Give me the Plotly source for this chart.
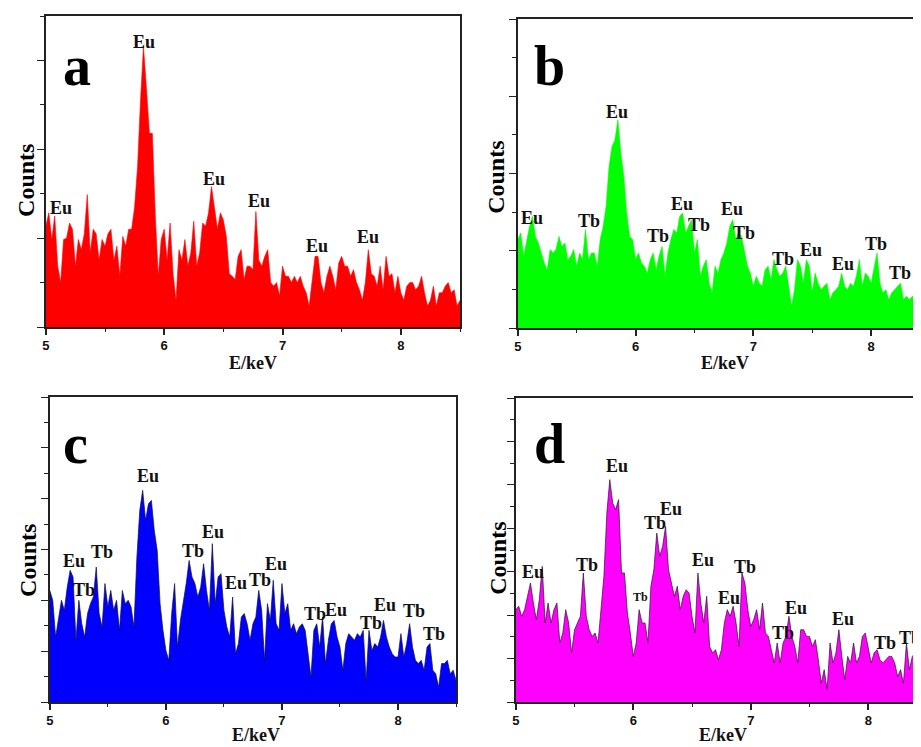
import plotly.graph_objects as go

# Energy channels (keV), uniform 0.025 keV grid from 5.0 to 8.5
E_START, E_STEP, N_CH = 5.0, 0.025, 141
energy = [round(E_START + E_STEP * i, 3) for i in range(N_CH)]

counts_a = [
    2.27, 2.57, 1.97, 2.5, 1.37, 1.0, 1.97, 2.0, 2.34, 2.2,
    1.37, 1.97, 1.74, 2.1, 2.98, 1.67, 2.2, 2.1, 1.5, 1.97,
    1.82, 2.1, 2.2, 1.5, 1.82, 1.14, 2.04, 1.82, 2.2, 2.2,
    2.7, 3.6, 5.1, 6.31, 5.37, 4.36, 4.36, 2.5, 1.14, 1.97,
    2.2, 1.5, 2.34, 1.2, 0.6, 1.74, 1.5, 1.97, 1.37, 1.67,
    2.38, 1.37, 1.67, 2.34, 2.27, 2.57, 3.16, 2.7, 2.2, 2.57,
    2.41, 2.04, 1.2, 1.14, 1.07, 1.59, 1.74, 1.07, 1.37, 1.37,
    1.29, 2.6, 1.5, 1.37, 1.59, 1.74, 1.0, 0.92, 1.0, 0.7,
    1.37, 1.14, 1.14, 1.0, 1.14, 1.0, 1.14, 0.92, 0.77, 0.47,
    1.0, 1.59, 1.59, 1.0, 0.77, 1.14, 1.37, 1.14, 0.84, 1.44,
    1.59, 1.37, 1.37, 1.14, 1.29, 1.0, 0.84, 0.6, 1.0, 1.74,
    1.2, 1.14, 0.92, 1.37, 0.84, 1.59, 1.14, 1.2, 0.77, 1.14,
    0.77, 0.6, 0.92, 1.0, 1.0, 0.84, 0.92, 1.14, 0.77, 0.47,
    0.6, 0.92, 0.47, 0.77, 0.77, 0.92, 1.0, 0.77, 0.84, 0.47,
    0.6,
]

counts_b = [
    2.29, 2.46, 1.86, 2.29, 2.63, 2.89, 2.37, 2.2, 1.94, 1.68,
    1.51, 2.03, 1.94, 2.03, 2.37, 2.11, 2.2, 1.77, 1.86, 2.03,
    1.6, 1.94, 1.77, 2.55, 1.77, 1.94, 1.94, 1.6, 2.29, 2.63,
    3.15, 4.18, 4.7, 4.87, 5.39, 4.53, 3.93, 2.98, 2.37, 2.29,
    1.77, 1.94, 1.68, 1.6, 1.42, 1.77, 1.94, 1.51, 1.86, 2.11,
    1.34, 1.94, 2.29, 2.55, 2.46, 2.89, 2.98, 2.46, 2.63, 2.8,
    1.94, 2.29, 1.34, 1.6, 1.77, 1.16, 0.91, 1.6, 1.42, 1.77,
    1.94, 2.2, 2.63, 2.8, 2.29, 2.46, 2.37, 1.94, 1.6, 1.42,
    1.08, 1.34, 1.16, 1.08, 1.51, 1.6, 1.25, 1.77, 1.51, 1.34,
    1.42, 1.6, 1.08, 0.56, 0.99, 1.77, 1.6, 1.16, 1.77, 1.6,
    0.91, 1.42, 1.16, 0.99, 1.08, 1.16, 0.73, 0.91, 0.99, 1.08,
    1.42, 1.08, 0.99, 1.16, 1.08, 1.34, 1.77, 1.08, 1.42, 1.34,
    1.16, 1.6, 1.94, 1.16, 0.91, 0.99, 0.73, 0.91, 0.99, 1.08,
    1.16, 0.73, 0.82, 0.73, 0.82, 0.65, 1.16, 1.16, 0.9, 0.8,
    0.85,
]

counts_c = [
    4.39, 4.0, 2.56, 3.34, 4.0, 3.61, 4.52, 5.18, 4.92, 2.43,
    4.0, 3.08, 2.56, 3.48, 3.87, 4.13, 5.31, 3.48, 2.95, 4.66,
    3.74, 4.39, 3.61, 4.0, 2.82, 4.39, 3.87, 4.0, 3.74, 2.95,
    5.7, 7.54, 8.33, 7.15, 7.8, 7.93, 6.75, 5.97, 3.87, 2.82,
    2.03, 1.64, 3.48, 4.66, 2.16, 3.21, 3.87, 4.66, 5.57, 4.92,
    4.66, 4.13, 4.52, 5.44, 4.39, 3.61, 6.23, 3.87, 4.92, 5.05,
    3.61, 2.95, 2.56, 4.13, 1.9, 2.3, 3.34, 3.48, 3.08, 2.43,
    3.08, 3.34, 4.39, 3.61, 1.64, 3.87, 3.21, 4.79, 3.08, 2.82,
    4.66, 3.48, 3.87, 2.82, 3.08, 2.69, 2.95, 3.08, 2.82, 1.9,
    0.98, 2.82, 3.08, 2.16, 3.34, 1.51, 2.43, 3.08, 3.21, 2.56,
    2.16, 1.25, 2.3, 2.69, 2.56, 2.43, 2.69, 2.56, 2.82, 0.85,
    2.82, 2.03, 2.3, 2.16, 2.56, 3.21, 2.56, 2.16, 1.9, 1.77,
    1.77, 2.69, 1.77, 2.3, 3.08, 2.16, 1.64, 1.51, 1.64, 1.25,
    2.16, 2.3, 1.25, 1.11, 0.59, 1.51, 1.51, 1.64, 1.11, 1.25,
    0.85,
]

counts_d = [
    4.25, 4.41, 3.95, 4.25, 4.87, 5.48, 4.56, 3.79, 4.71, 6.25,
    3.64, 4.56, 3.64, 4.25, 4.56, 2.72, 3.18, 4.25, 3.64, 2.26,
    3.33, 3.64, 3.95, 5.94, 3.95, 3.33, 3.02, 3.18, 2.72, 4.25,
    5.79, 8.7, 10.24, 9.16, 8.86, 9.32, 5.94, 5.94, 4.1, 3.18,
    2.1, 2.72, 4.25, 3.64, 3.64, 2.72, 5.33, 6.09, 7.78, 6.71,
    7.17, 8.09, 6.09, 5.48, 4.87, 5.33, 4.25, 4.87, 5.17, 5.02,
    3.95, 3.18, 5.94, 4.56, 3.64, 4.87, 2.56, 2.26, 2.41, 1.95,
    2.41, 3.64, 4.25, 3.95, 4.41, 3.64, 2.56, 5.94, 5.48, 4.25,
    3.48, 3.79, 4.25, 3.33, 4.56, 3.18, 3.02, 2.41, 1.8, 2.72,
    1.8, 2.72, 3.02, 3.95, 3.02, 2.56, 1.8, 3.33, 3.33, 3.02,
    3.02, 2.56, 2.87, 1.95, 0.87, 1.49, 0.57, 2.72, 1.8, 2.26,
    3.33, 2.1, 1.03, 2.1, 1.8, 2.72, 1.8, 2.1, 3.02, 3.18,
    2.56, 1.8, 2.26, 2.41, 1.95, 1.8, 1.95, 2.1, 2.1, 1.8,
    1.18, 1.49, 0.87, 2.72, 1.49, 2.1, 2.26, 1.49, 1.8, 1.6,
    1.5,
]

# Peak labels: (element, energy keV, label height in counts units)
labels_a = [("Eu", 5.827, 6.42), ("Eu", 5.124, 2.68), ("Eu", 6.418, 3.34),
            ("Eu", 6.803, 2.84), ("Eu", 7.295, 1.83), ("Eu", 7.72, 2.02)]
labels_b = [("Eu", 5.118, 2.86), ("Tb", 5.606, 2.78), ("Eu", 5.845, 5.59),
            ("Tb", 6.189, 2.39), ("Eu", 6.394, 3.21), ("Tb", 6.535, 2.66),
            ("Eu", 6.823, 3.08), ("Tb", 6.921, 2.46), ("Tb", 7.254, 1.79),
            ("Eu", 7.49, 2.01), ("Eu", 7.758, 1.67), ("Tb", 8.042, 2.18),
            ("Tb", 8.245, 1.42)]
labels_c = [("Eu", 5.843, 8.88), ("Eu", 5.209, 5.53), ("Tb", 5.294, 4.39),
            ("Tb", 5.451, 5.9), ("Tb", 6.237, 5.93), ("Eu", 6.409, 6.69),
            ("Eu", 6.6, 4.7), ("Tb", 6.814, 4.81), ("Eu", 6.946, 5.44),
            ("Tb", 7.289, 3.48), ("Eu", 7.466, 3.61), ("Tb", 7.766, 3.11),
            ("Eu", 7.889, 3.8), ("Tb", 8.137, 3.57), ("Tb", 8.309, 2.69)]
labels_d = [("Eu", 5.147, 5.99), ("Tb", 5.607, 6.32), ("Eu", 5.862, 10.85),
            ("Tb", 6.065, 4.82), ("Tb", 6.186, 8.25), ("Eu", 6.322, 8.89),
            ("Eu", 6.596, 6.55), ("Tb", 6.955, 6.2), ("Eu", 6.814, 4.79),
            ("Tb", 7.274, 3.18), ("Eu", 7.387, 4.33), ("Eu", 7.788, 3.82),
            ("Tb", 8.141, 2.72), ("Tb", 8.359, 2.95)]

# The page body adds an 8 px margin, so the figure is drawn 8 px smaller
# and all screen-pixel positions below are shifted by that offset.
OFF = 8
W, H = 921 - OFF, 747 - OFF


def px(x):
    return (x - OFF) / W


def py(y):
    return 1 - (y - OFF) / H


panels = [
    dict(letter="a", y=counts_a, labels=labels_a, fill="#FF0000", line="#FF0000", lw=0.6,
         box=(42, 458, 16, 327), xr=[5, 8.5], yr=[0, 7], mirror=True,
         letter_xy=(73, 66), counts_xy=(22, 180), ekev_xy=(250, 363)),
    dict(letter="b", y=counts_b, labels=labels_b, fill="#00FF00", line="#00FF00", lw=0.6,
         box=(516, 921, 19, 328), xr=[5, 8.4235], yr=[0, 8], mirror=False,
         letter_xy=(548, 66), counts_xy=(494, 177), ekev_xy=(724, 363)),
    dict(letter="c", y=counts_c, labels=labels_c, fill="#0000FF", line="#101040", lw=0.7,
         box=(46, 454, 397, 702), xr=[5, 8.5], yr=[0, 12], mirror=True,
         letter_xy=(72, 444), counts_xy=(24, 560), ekev_xy=(253, 735)),
    dict(letter="d", y=counts_d, labels=labels_d, fill="#FF00FF", line="#301030", lw=0.7,
         box=(514, 921, 398, 702), xr=[5, 8.449], yr=[0, 14], mirror=False,
         letter_xy=(548, 444), counts_xy=(496, 558), ekev_xy=(722, 735)),
]

SERIF = "Liberation Serif, Times New Roman, serif"
SANS = "Liberation Sans, Arial, sans-serif"

fig = go.Figure()
layout = dict(width=W, height=H, margin=dict(l=0, r=0, t=0, b=0),
              paper_bgcolor="white", plot_bgcolor="white", showlegend=False)
annotations = []

for i, p in enumerate(panels):
    n = "" if i == 0 else str(i + 1)
    x0, x1, y0, y1 = p["box"]
    fig.add_trace(go.Scatter(
        x=energy, y=p["y"], mode="lines", fill="tozeroy",
        fillcolor=p["fill"], line=dict(color=p["line"], width=p["lw"]),
        xaxis="x" + n, yaxis="y" + n, hoverinfo="skip"))
    layout["xaxis" + n] = dict(
        domain=[max(0, px(x0)), min(1, px(x1))], range=p["xr"], anchor="y" + n,
        showgrid=False, zeroline=False, showline=True, linecolor="#222222", linewidth=1.5,
        mirror=True, ticks="outside", ticklen=6, tickwidth=1.5, tickcolor="#222222",
        tick0=5, dtick=1, tickformat="d",
        minor=dict(dtick=0.5, ticks="outside", ticklen=3, tickwidth=1.2, tickcolor="#222222"),
        tickfont=dict(family=SANS, size=13, color="#111111", weight="bold"))
    layout["yaxis" + n] = dict(
        domain=[py(y1), py(y0)], range=p["yr"], anchor="x" + n,
        showgrid=False, zeroline=False, showline=True, linecolor="#222222", linewidth=1.5,
        mirror=p["mirror"], ticks="outside", ticklen=7, tickwidth=1.2, tickcolor="#222222",
        dtick=2, showticklabels=False,
        minor=dict(dtick=1, ticks="outside", ticklen=4, tickwidth=1.0, tickcolor="#222222"))
    xr, yr = "x" + n, "y" + n
    for el, ex, ey in p["labels"]:
        small = (p["letter"] == "d" and abs(ex - 6.065) < 1e-6)
        annotations.append(dict(
            x=ex, y=ey, xref=xr, yref=yr, text="<b>%s</b>" % el, showarrow=False,
            xanchor="center", yanchor="middle",
            font=dict(family=SERIF, size=12 if small else 18, color="#111111")))
    lx, ly = p["letter_xy"]
    annotations.append(dict(
        x=px(lx), y=py(ly), xref="paper", yref="paper", text="<b>%s</b>" % p["letter"],
        showarrow=False, xanchor="center", yanchor="middle",
        font=dict(family=SERIF, size=56, color="black")))
    cx, cy = p["counts_xy"]
    annotations.append(dict(
        x=px(cx), y=py(cy), xref="paper", yref="paper", text="<b>Counts</b>",
        showarrow=False, xanchor="center", yanchor="middle", textangle=-90,
        font=dict(family=SERIF, size=24, color="black")))
    ex_, ey_ = p["ekev_xy"]
    annotations.append(dict(
        x=px(ex_), y=py(ey_), xref="paper", yref="paper", text="<b>E/keV</b>",
        showarrow=False, xanchor="center", yanchor="middle", borderpad=0,
        font=dict(family=SERIF, size=18, color="#111111")))

layout["annotations"] = annotations
fig.update_layout(**layout)
fig.write_html("out.html")
